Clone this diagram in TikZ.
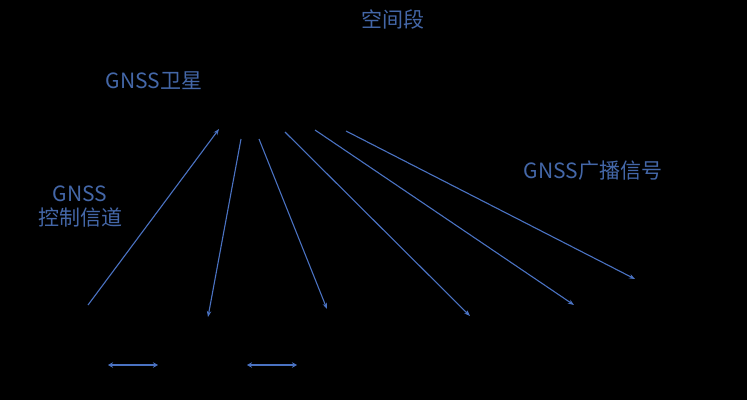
\documentclass[tikz,border=0pt]{standalone}
\usepackage{fontspec}
\setmainfont{Noto Sans CJK SC}
\usetikzlibrary{arrows.meta}
\definecolor{ln}{HTML}{4A72C2}
\definecolor{tx}{HTML}{4467A8}
\tikzset{
  lbl/.style={text=tx, font=\fontsize{21}{24}\selectfont, inner sep=0pt, align=center},
  sig/.style={draw=ln, line width=1.1pt, -{Stealth[length=6pt,width=4.5pt]}},
  dbl/.style={draw=ln, line width=2pt, {Stealth[length=5pt,width=5.5pt]}-{Stealth[length=5pt,width=5.5pt]}}
}
\begin{document}
\begin{tikzpicture}[x=1pt,y=-1pt]
\fill[black] (0,0) rectangle (747,400);
\useasboundingbox (0,0) rectangle (747,400);
\node[lbl] (space) at (393,19) {空间段};
\node[lbl] (sat) at (154,81) {GNSS卫星};
\node[lbl] (bcast) at (593,171) {GNSS广播信号};
\node[lbl, font=\fontsize{21}{24}\selectfont] (ctrl) at (80,207) {GNSS\\控制信道};
\coordinate (a0) at (88,305); \coordinate (a1) at (219,129);
\coordinate (b0) at (241,139); \coordinate (b1) at (208,317);
\coordinate (c0) at (259,139); \coordinate (c1) at (327,309);
\coordinate (d0) at (285,132); \coordinate (d1) at (470,316);
\coordinate (e0) at (315,130); \coordinate (e1) at (574,305);
\coordinate (f0) at (346,131); \coordinate (f1) at (635,279);
\draw[sig] (a0) -- (a1);
\draw[sig] (b0) -- (b1);
\draw[sig] (c0) -- (c1);
\draw[sig] (d0) -- (d1);
\draw[sig] (e0) -- (e1);
\draw[sig] (f0) -- (f1);
\coordinate (g0) at (108,365); \coordinate (g1) at (158,365);
\coordinate (h0) at (247,365); \coordinate (h1) at (297,365);
\draw[dbl] (g0) -- (g1);
\draw[dbl] (h0) -- (h1);
\end{tikzpicture}
\end{document}
